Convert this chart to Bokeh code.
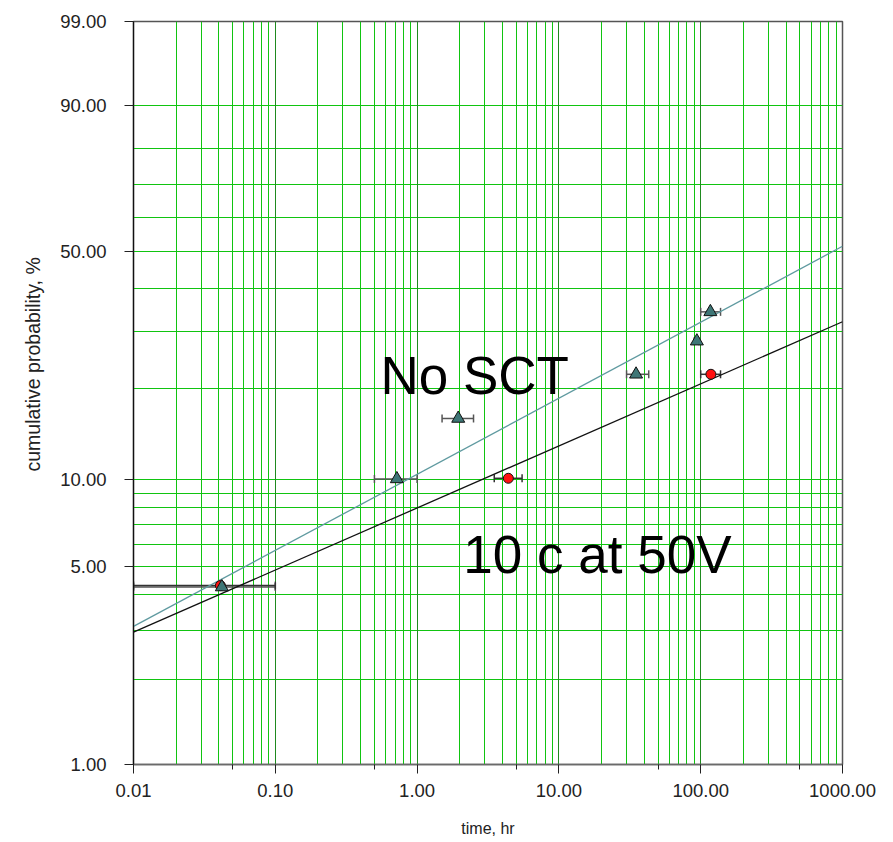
import numpy as np
from bokeh.plotting import figure
from bokeh.models import (FixedTicker, Grid, Whisker, TeeHead, ColumnDataSource,
                          Label, Range1d, Title)
from bokeh.embed import file_html
from bokeh.resources import INLINE

# ---------------- data ----------------
# "No SCT" series (triangles)
tri_time = [0.042, 0.72, 1.95, 35.0, 94.0, 117.0]
tri_pct = [4.25, 10.05, 16.0, 22.2, 28.1, 34.3]
tri_lo = [0.01, 0.5, 1.5, 30.0, 90.0, 100.0]
tri_hi = [0.1, 1.0, 2.5, 43.0, 97.0, 138.0]

# "10 c at 50V" series (circles)
circ_time = [0.041, 4.4, 118.0]
circ_pct = [4.3, 10.1, 22.2]
circ_lo = [0.01, 3.5, 100.0]
circ_hi = [0.1, 5.5, 138.0]

# fitted Weibull lines (end points)
fit_time = [0.01, 1000.0]
fit_tri_pct = [3.09, 51.4]
fit_circ_pct = [2.95, 32.1]

# axes
x_tick_vals = [0.01, 0.1, 1.0, 10.0, 100.0, 1000.0]
x_tick_labels = ["0.01", "0.10", "1.00", "10.00", "100.00", "1000.00"]
x_minor_vals = [0.05, 0.5, 5.0, 50.0, 500.0]
x_grid_vals = [m * 10.0 ** e for e in range(-2, 3) for m in range(2, 10)]
x_decade_grid = [0.1, 1.0, 10.0, 100.0]

y_tick_pct = [1, 5, 10, 50, 90, 99]
y_tick_labels = ["1.00", "5.00", "10.00", "50.00", "90.00", "99.00"]
y_grid_pct = [2, 3, 4, 5, 6, 7, 8, 9, 10, 20, 30, 40, 50, 60, 70, 80, 90]


def wb(pct):
    a = np.asarray(pct, dtype=float) / 100.0
    return np.log(-np.log(1.0 - a))


FONT = "Liberation Sans"
GREEN = "#11c411"
DARK_GREEN = "#1f8a1f"

p = figure(width=893, height=842, x_axis_type="log",
           x_range=Range1d(0.01, 1000.0),
           y_range=Range1d(float(wb(1)), float(wb(99))),
           output_backend="svg", toolbar_location=None,
           min_border_left=133, min_border_right=51,
           min_border_top=21, min_border_bottom=78)

p.background_fill_color = "white"
p.border_fill_color = "white"
p.outline_line_color = "#555555"
p.outline_line_width = 1.5

# grids
p.xgrid.ticker = FixedTicker(ticks=x_grid_vals)
p.xgrid.grid_line_color = GREEN
p.xgrid.grid_line_width = 1
p.add_layout(Grid(dimension=0, ticker=FixedTicker(ticks=x_decade_grid),
                  grid_line_color=DARK_GREEN, grid_line_width=1))
p.ygrid.ticker = FixedTicker(ticks=[float(v) for v in wb(y_grid_pct)])
p.ygrid.grid_line_color = GREEN
p.ygrid.grid_line_width = 1

# x axis
xa = p.xaxis[0]
xa.ticker = FixedTicker(ticks=x_tick_vals, minor_ticks=x_minor_vals)
xa.major_label_overrides = {v: s for v, s in zip(x_tick_vals, x_tick_labels)}
xa.axis_label = "time, hr"
xa.axis_line_color = "#6a6a6a"
xa.axis_line_width = 1.5
xa.major_tick_line_color = "#222222"
xa.major_tick_out = 9
xa.major_tick_in = 0
xa.minor_tick_line_color = "#222222"
xa.minor_tick_out = 5
xa.minor_tick_in = 0
xa.major_label_standoff = 10
xa.major_label_text_font = FONT
xa.major_label_text_font_size = "18.5px"
xa.major_label_text_color = "#222222"
xa.axis_label_text_font = FONT
xa.axis_label_text_font_size = "16px"
xa.axis_label_text_font_style = "normal"
xa.axis_label_text_color = "#222222"
xa.axis_label_standoff = 20

# y axis
ya = p.yaxis[0]
y_ticks = [float(v) for v in wb(y_tick_pct)]
ya.ticker = FixedTicker(ticks=y_ticks)
ya.major_label_overrides = {v: s for v, s in zip(y_ticks, y_tick_labels)}
ya.axis_line_color = "#111111"
ya.axis_line_width = 1.2
ya.major_tick_line_color = "#222222"
ya.major_tick_out = 9
ya.major_tick_in = 0
ya.minor_tick_line_color = None
ya.major_label_standoff = 18
ya.major_label_text_font = FONT
ya.major_label_text_font_size = "18.5px"
ya.major_label_text_color = "#222222"

p.add_layout(Title(text="cumulative probability, %", align="left",
                   offset=293, standoff=28,
                   text_font=FONT, text_font_size="19.5px",
                   text_font_style="normal", text_color="#222222"), "left")

# fitted lines
p.line(fit_time, wb(fit_tri_pct), line_color="#5f9aa0", line_width=1.3)
p.line(fit_time, wb(fit_circ_pct), line_color="#111111", line_width=1.3)

# error bars
tri_src = ColumnDataSource(dict(x=tri_time, y=wb(tri_pct), lo=tri_lo, hi=tri_hi))
circ_src = ColumnDataSource(dict(x=circ_time, y=wb(circ_pct), lo=circ_lo, hi=circ_hi))
for src, col in ((tri_src, "#555555"), (circ_src, "#333333")):
    p.add_layout(Whisker(source=src, base="y", lower="lo", upper="hi",
                         dimension="width", line_color=col, line_width=1.5,
                         upper_head=TeeHead(size=8, line_color=col, line_width=1.5),
                         lower_head=TeeHead(size=8, line_color=col, line_width=1.5)))

# markers
p.scatter("x", "y", source=circ_src, marker="circle", size=10,
          fill_color="#ff1010", line_color="#111111", line_width=1)
p.scatter("x", "y", source=tri_src, marker="triangle", size=13,
          fill_color="#3e7676", line_color="#111111", line_width=1)

# annotations
p.add_layout(Label(x=0.552, y=float(wb(22.0)), text="No SCT",
                   text_font=FONT, text_font_size="53px", text_color="black",
                   text_align="left", text_baseline="alphabetic"))
p.add_layout(Label(x=2.12, y=float(wb(5.53)), text="10 c at 50V",
                   text_font=FONT, text_font_size="53px", text_color="black",
                   text_align="left", text_baseline="alphabetic"))

open("out.html", "w").write(file_html(p, INLINE))
